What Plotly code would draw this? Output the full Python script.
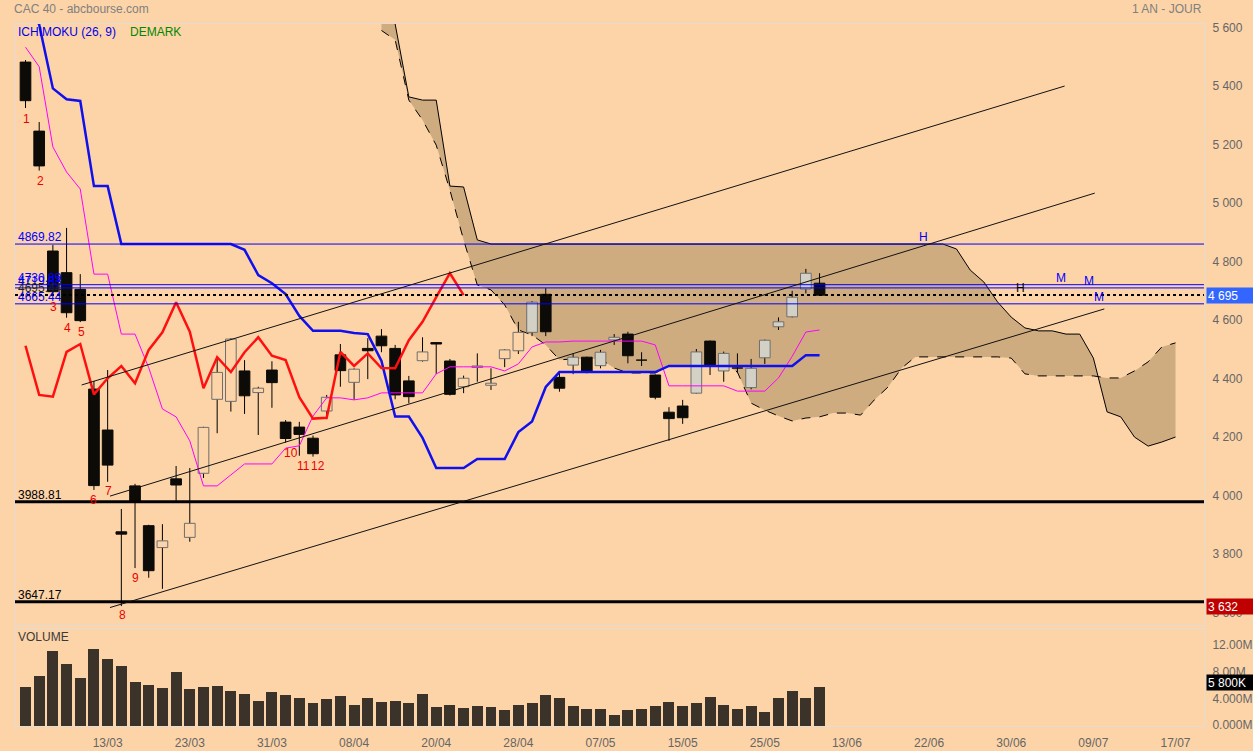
import plotly.graph_objects as go

# ---------------- data ----------------
OPEN = [5492, 5256, 4846, 4772, 4715, 4374, 4234, 3886, 4043, 3907,
        3832, 4067, 3867, 4086, 4339, 4332, 4436, 4362, 4439, 4261,
        4244, 4206, 4299, 4491, 4397, 4513, 4555, 4513, 4402, 4471,
        4533, 4470, 4382, 4448, 4387, 4478, 4505, 4568, 4698, 4414,
        4456, 4483, 4454, 4542, 4562, 4475, 4422, 4295, 4316, 4360,
        4538, 4436, 4448, 4379, 4481, 4587, 4621, 4716, 4736]
HIGH = [5499, 5287, 4867, 4925, 4767, 4402, 4439, 3964, 4050, 3910,
        3912, 4111, 4104, 4245, 4485, 4548, 4473, 4382, 4469, 4268,
        4262, 4215, 4354, 4528, 4445, 4548, 4579, 4525, 4419, 4551,
        4535, 4477, 4420, 4496, 4445, 4510, 4604, 4675, 4719, 4430,
        4496, 4485, 4508, 4562, 4570, 4500, 4424, 4312, 4337, 4511,
        4540, 4502, 4496, 4477, 4543, 4619, 4710, 4785, 4770]
LOW = [5335, 5121, 4700, 4618, 4603, 4029, 4057, 3632, 3762, 3729,
       3691, 3992, 3852, 4070, 4223, 4297, 4289, 4217, 4310, 4191,
       4146, 4143, 4271, 4382, 4337, 4408, 4500, 4339, 4325, 4468,
       4426, 4352, 4360, 4399, 4371, 4449, 4494, 4555, 4555, 4365,
       4425, 4428, 4445, 4525, 4462, 4453, 4339, 4197, 4255, 4358,
       4422, 4399, 4430, 4373, 4460, 4576, 4619, 4701, 4693]
CLOSE = [5360, 5137, 4707, 4635, 4608, 4044, 4114, 3878, 3989, 3753,
         3855, 4046, 3915, 4243, 4431, 4545, 4351, 4377, 4396, 4205,
         4219, 4153, 4346, 4437, 4442, 4505, 4522, 4354, 4348, 4501,
         4528, 4356, 4411, 4453, 4394, 4508, 4568, 4671, 4570, 4377,
         4483, 4432, 4500, 4551, 4488, 4473, 4346, 4273, 4276, 4501,
         4453, 4496, 4446, 4445, 4541, 4604, 4688, 4770, 4695]
VOLUME_M = [5.9, 7.55, 11.3, 9.25, 7.2, 11.55, 10.05, 9.0, 6.65, 6.1,
            5.7, 8.05, 5.6, 5.8, 5.95, 5.25, 4.85, 3.75, 5.1, 4.6,
            4.2, 3.45, 4.1, 4.55, 3.15, 4.15, 3.55, 3.7, 3.45, 4.8,
            2.8, 3.2, 2.75, 2.95, 2.8, 2.45, 3.2, 3.4, 4.65, 4.15,
            3.0, 2.6, 2.55, 1.65, 2.4, 2.6, 3.0, 3.55, 2.95, 3.45,
            4.4, 3.15, 2.5, 2.95, 2.05, 4.15, 5.3, 4.25, 5.8]
TENKAN = [5543, 5476, 5202, 5116, 5058, 4767, 4767, 4562, 4562, 4447,
          4306, 4279, 4197, 4043, 4043, 4080, 4118, 4118, 4118, 4172,
          4180, 4282, 4344, 4344, 4337, 4344, 4361, 4361, 4361, 4361,
          4426, 4450, 4450, 4450, 4450, 4436, 4460, 4518, 4535, 4535,
          4538, 4538, 4538, 4538, 4538, 4538, 4525, 4385, 4385, 4385,
          4385, 4385, 4367, 4367, 4367, 4412, 4486, 4569, 4576]
KIJUN = [5720, 5620, 5402, 5365, 5359, 5068, 5068, 4870, 4870, 4870,
         4870, 4870, 4870, 4870, 4870, 4870, 4850, 4764, 4736, 4699,
         4624, 4573, 4573, 4573, 4566, 4562, 4470, 4280, 4280, 4207,
         4104, 4104, 4104, 4135, 4135, 4135, 4227, 4263, 4381, 4432,
         4432, 4432, 4432, 4432, 4432, 4432, 4432, 4453, 4453, 4453,
         4453, 4453, 4453, 4453, 4453, 4453, 4453, 4490, 4490]
SHIFT = 26
SPAN_A = [5600, 5568, 5362, 5294, 5208, 5054, 4884, 4730, 4713, 4662,
          4576, 4559, 4525, 4474, 4477, 4477, 4477, 4446, 4429, 4429,
          4429, 4453, 4453, 4453, 4456, 4460, 4432, 4326, 4302, 4282,
          4265, 4275, 4279, 4292, 4292, 4285, 4337, 4381, 4446, 4484,
          4484, 4484, 4484, 4484, 4484, 4484, 4480, 4426, 4419, 4419,
          4419, 4419, 4419, 4412, 4412, 4436, 4467, 4518, 4532]
SPAN_B = [5700, 5622, 5373, 5362, 5362, 5068, 5065, 4884, 4870, 4870,
          4870, 4870, 4870, 4870, 4870, 4870, 4870, 4870, 4870, 4870,
          4870, 4870, 4870, 4870, 4870, 4870, 4870, 4870, 4870, 4870,
          4870, 4870, 4870, 4870, 4870, 4870, 4870, 4870, 4870, 4870,
          4870, 4870, 4853, 4781, 4740, 4672, 4620, 4583, 4573, 4573,
          4562, 4562, 4480, 4296, 4279, 4210, 4179, 4193, 4210]

X_TICK_IDX = [6, 12, 18, 24, 30, 36, 42, 48, 54, 60, 66, 72, 78, 84]
X_TICK_TEXT = ["13/03", "23/03", "31/03", "08/04", "20/04", "28/04", "07/05",
               "15/05", "25/05", "13/06", "22/06", "30/06", "09/07", "17/07"]
Y_TICKS = [3600, 3800, 4000, 4200, 4400, 4600, 4800, 5000, 5200, 5400, 5600]
VOL_TICKS = [0, 4, 8, 12]
VOL_TICK_TEXT = ["0.000M", "4.000M", "8.00M", "12.00M"]

# horizontal levels
LEVELS = [4869.82, 4730.89, 4719.83, 4695.44, 4665.44, 3988.81, 3647.17]
LEVEL_LABELS = ["4869.82", "4730.89", "4719.83", "4695.44", "4665.44", "3988.81", "3647.17"]
LEVEL_KIND = ["blue", "blue", "blue", "dot", "blue", "thick", "thick"]
LEVEL_TAGS = [("H", 65.6, 4869.82, "blue"), ("M", 75.6, 4730.89, "blue"),
              ("M", 77.7, 4719.83, "blue"), ("H", 72.7, 4695.44, "black"),
              ("M", 78.4, 4665.44, "blue")]

# trend lines (x index, value)
TRENDS = [(4.1, 4388, 75.9, 5410), (6.17, 4008, 78.1, 5044), (6.17, 3627, 78.8, 4648)]

DEMARK_TEXT = ["1", "2", "3", "4", "5", "6", "7", "8", "9", "10", "11", "12"]
DEMARK_X = [0.05, 1.08, 2.03, 3.05, 4.1, 5.0, 6.05, 7.1, 8.07, 19.37, 20.3, 21.4]
DEMARK_Y = [5297, 5085, 4654, 4583, 4569, 3995, 4026, 3602, 3728, 4155, 4111, 4111]

LAST_PRICE = 4695
LOW_PRICE = 3632
LAST_VOL_M = 5.8
GRAY_FILL_FROM = 37

# ---------------- styles ----------------
BG = "#fdd4a8"
CLOUD = "#ceac80"
FONT = "Liberation Sans, Arial, sans-serif"
BODY_HALF = 0.39

n = len(CLOSE)
idx = list(range(n))
fig = go.Figure()

# cloud
sx = [SHIFT + k for k in range(len(SPAN_A))]
fig.add_trace(go.Scatter(x=sx, y=SPAN_B, mode="lines", line=dict(color="black", width=1),
                         hoverinfo="skip", showlegend=False))
fig.add_trace(go.Scatter(x=sx, y=SPAN_A, mode="lines", line=dict(color="black", width=1, dash="dash"),
                         fill="tonexty", fillcolor=CLOUD, hoverinfo="skip", showlegend=False))

# volume
fig.add_trace(go.Bar(x=idx, y=VOLUME_M, width=0.8, marker=dict(color="#3b3229", line=dict(width=0)),
                     xaxis="x2", yaxis="y2", showlegend=False))

# wicks
wx, wy = [], []
for i in idx:
    wx += [i, i, None]
    wy += [LOW[i], HIGH[i], None]
fig.add_trace(go.Scatter(x=wx, y=wy, mode="lines", line=dict(color="black", width=1),
                         hoverinfo="skip", showlegend=False))


def bodies(sel):
    px, py = [], []
    for i in sel:
        lo, hi = min(OPEN[i], CLOSE[i]), max(OPEN[i], CLOSE[i])
        px += [i - BODY_HALF, i + BODY_HALF, i + BODY_HALF, i - BODY_HALF, i - BODY_HALF, None]
        py += [lo, lo, hi, hi, lo, None]
    return px, py


down = [i for i in idx if CLOSE[i] < OPEN[i]]
up_gray = [i for i in idx if CLOSE[i] >= OPEN[i] and i >= GRAY_FILL_FROM]
up_clear = [i for i in idx if CLOSE[i] >= OPEN[i] and i < GRAY_FILL_FROM]

for sel, fc, lc in [(up_clear, BG, "#6e6e6e"), (up_gray, "#d3d0c6", "#6e6e6e"), (down, "#0d0b08", "#0d0b08")]:
    bx, by = bodies(sel)
    fig.add_trace(go.Scatter(x=bx, y=by, mode="lines", fill="toself", fillcolor=fc,
                             line=dict(color=lc, width=1), hoverinfo="skip", showlegend=False))

# ichimoku lines
fig.add_trace(go.Scatter(x=idx, y=TENKAN, mode="lines", line=dict(color="#ff00ff", width=1),
                         hoverinfo="skip", showlegend=False))
fig.add_trace(go.Scatter(x=idx, y=KIJUN, mode="lines", line=dict(color="#1010ee", width=2.5),
                         hoverinfo="skip", showlegend=False))
chik = CLOSE[SHIFT:]
fig.add_trace(go.Scatter(x=list(range(len(chik))), y=chik, mode="lines",
                         line=dict(color="#ff1010", width=2.5), hoverinfo="skip", showlegend=False))

shapes = []
ann = []
for v, lab, kind in zip(LEVELS, LEVEL_LABELS, LEVEL_KIND):
    if kind == "blue":
        ln = dict(color="#0000ff", width=1)
        col = "#0000ff"
    elif kind == "dot":
        ln = dict(color="black", width=2, dash="dot")
        col = "#222222"
    else:
        ln = dict(color="black", width=3)
        col = "black"
    shapes.append(dict(type="line", xref="x domain", yref="y", x0=0, x1=1, y0=v, y1=v, line=ln, layer="above"))
    ann.append(dict(xref="paper", yref="y", x=0.0, xshift=1, y=v, text=lab, showarrow=False, xanchor="left",
                    yanchor="bottom", yshift=-2, font=dict(family=FONT, size=12, color=col)))
for t, xv, v, c in LEVEL_TAGS:
    ann.append(dict(xref="x", yref="y", x=xv, y=v, text=t, showarrow=False, yanchor="bottom", yshift=-2,
                    font=dict(family=FONT, size=12, color="#0000ff" if c == "blue" else "black")))
for x0, y0, x1, y1 in TRENDS:
    shapes.append(dict(type="line", xref="x", yref="y", x0=x0, y0=y0, x1=x1, y1=y1,
                       line=dict(color="#111111", width=1), layer="above"))
for t, xv, yv in zip(DEMARK_TEXT, DEMARK_X, DEMARK_Y):
    ann.append(dict(xref="x", yref="y", x=xv, y=yv, text=t, showarrow=False,
                    font=dict(family=FONT, size=12, color="#ee0000")))

# header texts
ann.append(dict(xref="paper", yref="paper", x=0.0, xshift=-3, y=1.0, yshift=15, text="CAC 40 - abcbourse.com",
                showarrow=False, xanchor="left", yanchor="middle", font=dict(family=FONT, size=12, color="#808080")))
ann.append(dict(xref="paper", yref="paper", x=1.0, y=1.0, yshift=15, text="1 AN - JOUR",
                showarrow=False, xanchor="right", yanchor="middle", font=dict(family=FONT, size=12, color="#808080")))
ann.append(dict(xref="paper", yref="paper", x=0.0, xshift=1, y=1.0, yshift=-8, text="ICHIMOKU (26, 9)",
                showarrow=False, xanchor="left", yanchor="middle", font=dict(family=FONT, size=12, color="#0000ee")))
ann.append(dict(xref="paper", yref="paper", x=0.0, xshift=113, y=1.0, yshift=-8, text="DEMARK",
                showarrow=False, xanchor="left", yanchor="middle", font=dict(family=FONT, size=12, color="#008800")))
ann.append(dict(xref="paper", yref="y2", x=0.0, xshift=1, y=14.5, yshift=-8, text="VOLUME",
                showarrow=False, xanchor="left", yanchor="middle", font=dict(family=FONT, size=12, color="#3a3a3a")))


def box(y, yref, text, bg, ysh=0):
    return dict(xref="paper", yref=yref, x=1.0, xshift=2, y=y, yshift=ysh, text=text, showarrow=False,
                xanchor="left", yanchor="middle", align="left", width=44, height=13, borderpad=1,
                bgcolor=bg, font=dict(family=FONT, size=12, color="white"))


ann.append(box(LAST_PRICE, "y", f"{LAST_PRICE:,}".replace(",", " "), "#3366ff"))
ann.append(box(LOW_PRICE, "y", f"{LOW_PRICE:,}".replace(",", " "), "#c00000"))
ann.append(box(LAST_VOL_M, "y2", f"{int(LAST_VOL_M*1000):,}K".replace(",", " "), "black", 5))

axis_common = dict(showgrid=False, zeroline=False, showline=True, linecolor="#e4dcd2", linewidth=1,
                   mirror=True, automargin=False)
fig.update_layout(
    width=1253, height=751,
    margin=dict(l=15, r=49, t=24, b=25),
    paper_bgcolor=BG, plot_bgcolor=BG,
    barmode="overlay", bargap=0,
    showlegend=False,
    font=dict(family=FONT, size=12, color="#666666"),
    xaxis=dict(range=[-0.767, 86.08], domain=[0, 1], anchor="y", showticklabels=False, ticks="", **axis_common),
    yaxis=dict(range=[3567.4, 5622.2], domain=[0.1439, 1], side="right", tickvals=Y_TICKS,
               ticktext=[f"{v:,}".replace(",", " ") for v in Y_TICKS], ticks="", ticklabelshift=-3,
               ticklabelstandoff=5, tickfont=dict(color="#666666", size=12), **axis_common),
    xaxis2=dict(range=[-0.767, 86.08], domain=[0, 1], anchor="y2", matches="x", tickvals=X_TICK_IDX,
                ticktext=X_TICK_TEXT, ticks="", ticklabelstandoff=6, tickfont=dict(color="#666666", size=12),
                **axis_common),
    yaxis2=dict(range=[0, 14.54], domain=[0, 0.1382], side="right", anchor="x2", tickvals=VOL_TICKS,
                ticktext=VOL_TICK_TEXT, ticks="", ticklabelshift=-1, ticklabelstandoff=5,
                tickfont=dict(color="#666666", size=12), **axis_common),
    shapes=shapes, annotations=ann,
)

fig.write_html("out.html", config={"displayModeBar": False},
               post_script="document.body.style.margin='0';document.body.style.overflow='hidden';")
